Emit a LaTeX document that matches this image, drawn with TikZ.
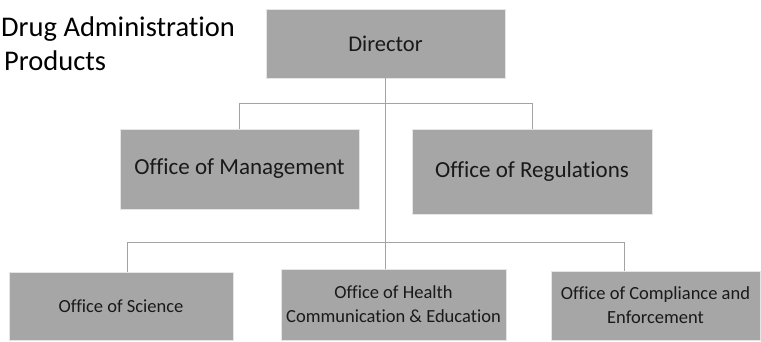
\documentclass[tikz,border=0pt]{standalone}
\usepackage{fontspec}
\setmainfont[Ligatures=NoCommon,RawFeature={-liga;-clig}]{Carlito}
\usetikzlibrary{calc}

\definecolor{boxgray}{HTML}{A6A6A6}
\definecolor{linegray}{HTML}{A3A3A3}

\begin{document}
\begin{tikzpicture}[x=1pt, y=-1pt,
  office/.style={fill=boxgray, draw=gray!20, line width=0.8pt, inner sep=0pt, align=center, text=black!90},
  link/.style={draw=linegray, line width=0.9pt}]
\useasboundingbox (0,0) rectangle (761,341);

% heading at the left edge
\node[anchor=base west, inner sep=0pt, font=\fontsize{28.5}{34}\selectfont] (head1) at (1,36) {Drug Administration};
\node[anchor=base west, inner sep=0pt, font=\fontsize{28.5}{34}\selectfont] (head2) at (4,70) {Products};

% top
\node[office, minimum width=239pt, minimum height=69pt, font=\fontsize{22.5}{27}\selectfont] (dir) at (385.5,43.5) {Director};

% second row
\node[office, minimum width=239pt, minimum height=80pt, font=\fontsize{23}{28}\selectfont] (mgmt) at (239.5,169) {Office of Management};
\node[office, minimum width=240pt, minimum height=85pt, font=\fontsize{23}{28}\selectfont] (reg) at (532,171.5) {Office of Regulations};

% third row
\node[office, minimum width=224pt, minimum height=68pt, font=\fontsize{18.5}{24}\selectfont] (sci) at (121,306) {Office of Science};
\node[office, minimum width=225pt, minimum height=71pt, font=\fontsize{18.5}{24}\selectfont] (hlt) at (393.5,304.5) {Office of Health\\Communication \& Education};
\node[office, minimum width=209pt, minimum height=69pt, font=\fontsize{18.5}{24}\selectfont] (comp) at (655.5,305.5) {Office of Compliance and\\Enforcement};

% connectors
\draw[link] (dir.south) -- (dir.south |- hlt.north);
\draw[link] (mgmt.north) -- ++(0,-25) -| (reg.north);
\draw[link] ([xshift=6pt]sci.north) -- ++(0,-29) -| ([xshift=-31.5pt]comp.north);

\end{tikzpicture}
\end{document}
